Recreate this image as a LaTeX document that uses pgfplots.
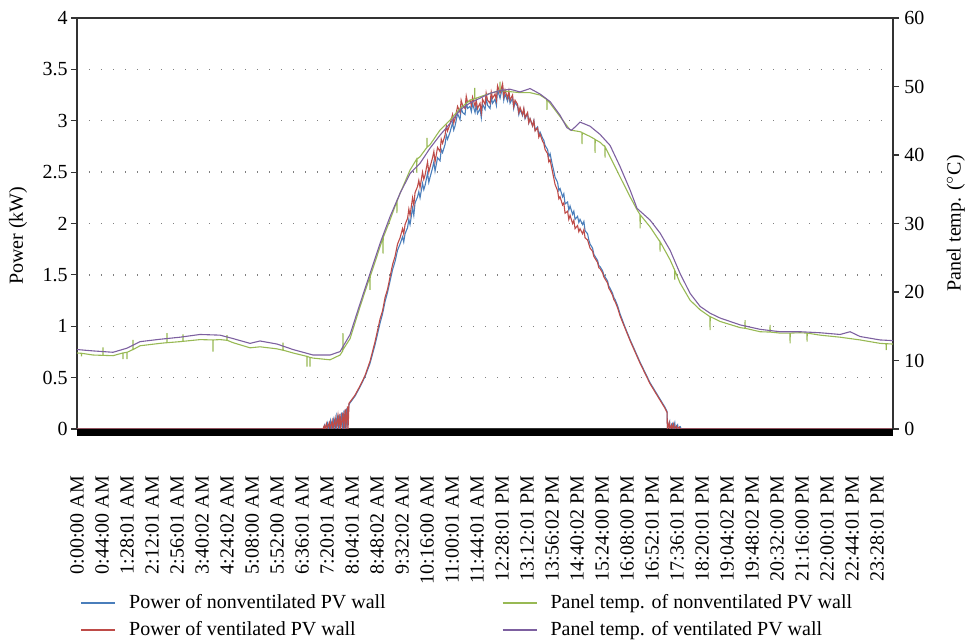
\documentclass[border=0pt]{standalone}
\usepackage{pgfplots}
\pgfplotsset{compat=1.18}
\usepackage{fontspec}
\setmainfont{Liberation Serif}
\definecolor{cblue}{HTML}{4A7EBB}
\definecolor{cred}{HTML}{BE4B48}
\definecolor{cgreen}{HTML}{98B954}
\definecolor{cpurple}{HTML}{7D60A0}
\definecolor{axgray}{HTML}{333333}
\begin{document}
\begin{tikzpicture}[font=\fontsize{10}{12}\selectfont]
\begin{axis}[name=ax1, scale only axis, width=408pt, height=205.5pt,
  xmin=0, xmax=1436, ymin=0, ymax=4,
  /pgf/number format/assume math mode=true,
  xtick={0,44,...,1408},
  xticklabels={0:00:00 AM,0:44:00 AM,1:28:01 AM,2:12:01 AM,2:56:01 AM,3:40:02 AM,4:24:02 AM,5:08:00 AM,5:52:00 AM,6:36:01 AM,7:20:01 AM,8:04:01 AM,8:48:02 AM,9:32:02 AM,10:16:00 AM,11:00:01 AM,11:44:01 AM,12:28:01 PM,13:12:01 PM,13:56:02 PM,14:40:02 PM,15:24:00 PM,16:08:00 PM,16:52:01 PM,17:36:01 PM,18:20:01 PM,19:04:02 PM,19:48:02 PM,20:32:00 PM,21:16:00 PM,22:00:01 PM,22:44:01 PM,23:28:01 PM},
  xticklabel style={rotate=90, anchor=east},
  xticklabel shift=17pt,
  xtick style={draw=none},
  ytick={0,0.5,...,4},
  yticklabel style={inner xsep=1.5pt},
  ytick pos=left, tick align=outside, major tick length=3pt,
  ytick style={axgray, line width=0.6pt},
  ymajorgrids, grid style={gray, line width=0.7pt, dash pattern=on 0.7pt off 5.3pt},
  axis line style={axgray, line width=0.7pt},
  ylabel={Power (kW)},
  ylabel style={at={(axis description cs:-0.0723,0.47)}, anchor=center},
]
\addplot[cblue, line width=0.55pt] coordinates {
(0,0)(433,0)(436,0.04)(437,0)(441,0.06)(442,0)(446,0.08)(447,0)(451,0.09)(452,0)(456,0.12)(457,0)(461,0.14)(462,0)(466,0.16)(467,0)(470,0.18)(471,0)(474,0.2)(475,0)
(478.7,0.24)(489.3,0.32)(498.1,0.41)(506.9,0.51)(515.7,0.64)(524.5,0.82)(533.3,1.03)(537.7,1.12)(542.1,1.24)(546.5,1.33)(550.9,1.44)(555.3,1.55)(559.7,1.63)(564.1,1.74)(568.5,1.8)
(572.9,1.87)(575,1.82)(577.3,1.9)(581.7,1.96)(584,2.04)(586.1,1.99)(590.5,2.15)(592.7,2.08)(594.9,2.2)(599.3,2.26)(601.5,2.31)(603.7,2.25)(608.1,2.39)(610.3,2.33)(612.5,2.37)(616.9,2.49)(619.1,2.4)(621.3,2.45)(625.7,2.54)(628,2.6)(630.1,2.51)(634.5,2.64)(638.9,2.61)(641,2.72)(643.3,2.69)(647.7,2.77)(650,2.86)(652.1,2.82)(656.5,2.89)(660.9,2.98)(663,2.91)(665.3,2.95)(669.7,3.07)(674.1,3.01)(676,3.13)(678.5,3.08)(682.9,3.06)(685,3.18)(687.3,3.12)(691.7,3.14)(694,3.09)(696.1,3.17)(700.5,3.08)(702.5,3.15)(704.9,3.07)(709.3,3.12)(711.5,3.03)(713.7,3.16)(718.1,3.11)(720,3.22)(722.5,3.15)(726.9,3.12)(729,3.23)(731.3,3.17)(735.7,3.21)(738,3.15)(740.1,3.3)(744.5,3.22)(746.5,3.27)(748.9,3.33)(751,3.2)(753.3,3.26)(757.7,3.19)(760,3.26)(762.1,3.17)(766.5,3.22)(768.5,3.12)(770.9,3.18)(775.3,3.14)(777.5,3.06)(779.7,3.11)(784.1,3.05)(786.3,3.11)(788.5,3.02)(792.9,3.07)(795,2.98)(797.3,3.02)(801.7,2.95)(804,3.0)(806.1,2.91)(810.5,2.94)(812.7,2.86)(814.9,2.89)(819.3,2.83)(821.5,2.81)(823.7,2.76)(828.1,2.72)(830.3,2.65)(832.5,2.68)(836.9,2.56)(839.1,2.51)(841.3,2.45)(845.7,2.4)(848,2.32)(850.1,2.34)(854.5,2.26)(856.7,2.29)(858.9,2.19)(863.3,2.21)(865.5,2.13)(867.7,2.17)(872.1,2.09)(874.3,2.12)(876.5,2.04)(880.9,2.07)(883.1,2.01)(885.3,2.04)(889.7,1.99)(892,2.02)(894.1,1.93)(898.5,1.9)(900.7,1.84)(902.9,1.8)(907.3,1.76)(909.5,1.7)(911.7,1.68)(916.1,1.64)(918.3,1.59)(920.5,1.58)(924.9,1.54)(927.1,1.5)(929.3,1.48)(933.7,1.44)(935.9,1.39)(938.1,1.37)(942.5,1.32)(944.7,1.28)(946.9,1.26)(951.3,1.2)(953.5,1.16)(955.7,1.12)
(964.5,0.99)(973.3,0.87)(982.1,0.76)(990.9,0.65)(999.7,0.55)(1008.5,0.45)(1017.3,0.37)(1026.1,0.29)(1034.9,0.21)(1038.4,0.17)
(1039,0)(1043,0.07)(1044,0)(1048,0.05)(1049,0)(1052,0.06)(1053,0)(1057,0.04)(1058,0)(1062,0.02)(1063,0)(1436,0)};
\addplot[cred, line width=0.55pt] coordinates {
(0,0)(433,0)(435,0.03)(436,0)(439,0.05)(440,0)(444,0.06)(445,0)(449,0.08)(450,0)(454,0.1)(455,0)(459,0.13)(460,0)(463,0.15)(464,0)(468,0.16)(469,0)(472,0.19)(473,0)(476,0.22)(477,0)
(478.7,0.25)(489.3,0.33)(498.1,0.42)(506.9,0.52)(515.7,0.66)(524.5,0.85)(533.3,1.07)(537.7,1.15)(542.1,1.28)(546.5,1.36)(550.9,1.48)(555.3,1.6)(559.7,1.68)(564.1,1.8)(568.5,1.86)
(572.9,1.95)(575,1.9)(577.3,1.99)(581.7,2.05)(584,2.14)(586.1,2.08)(590.5,2.25)(592.7,2.18)(594.9,2.3)(599.3,2.36)(601.5,2.42)(603.7,2.35)(608.1,2.5)(610.3,2.43)(612.5,2.47)(616.9,2.6)(619.1,2.5)(621.3,2.55)(625.7,2.64)(628,2.7)(630.1,2.6)(634.5,2.74)(638.9,2.7)(641,2.82)(643.3,2.78)(647.7,2.86)(650,2.95)(652.1,2.9)(656.5,2.97)(660.9,3.06)(663,2.98)(665.3,3.02)(669.7,3.14)(674.1,3.08)(676,3.2)(678.5,3.15)(682.9,3.12)(685,3.24)(687.3,3.18)(691.7,3.2)(694,3.15)(696.1,3.23)(700.5,3.14)(702.5,3.2)(704.9,3.12)(709.3,3.17)(711.5,3.08)(713.7,3.21)(718.1,3.16)(720,3.27)(722.5,3.2)(726.9,3.17)(729,3.28)(731.3,3.22)(735.7,3.26)(738,3.2)(740.1,3.34)(744.5,3.27)(746.5,3.31)(748.9,3.36)(751,3.24)(753.3,3.3)(757.7,3.22)(760,3.29)(762.1,3.2)(766.5,3.25)(768.5,3.14)(770.9,3.2)(775.3,3.16)(777.5,3.08)(779.7,3.13)(784.1,3.06)(786.3,3.12)(788.5,3.03)(792.9,3.08)(795,2.98)(797.3,3.02)(801.7,2.95)(804,3.0)(806.1,2.9)(810.5,2.93)(812.7,2.84)(814.9,2.87)(819.3,2.8)(821.5,2.78)(823.7,2.72)(828.1,2.68)(830.3,2.6)(832.5,2.62)(836.9,2.5)(839.1,2.44)(841.3,2.38)(845.7,2.32)(848,2.24)(850.1,2.26)(854.5,2.18)(856.7,2.2)(858.9,2.1)(863.3,2.12)(865.5,2.04)(867.7,2.08)(872.1,2.0)(874.3,2.03)(876.5,1.95)(880.9,1.98)(883.1,1.92)(885.3,1.95)(889.7,1.9)(892,1.94)(894.1,1.86)(898.5,1.84)(900.7,1.8)(902.9,1.76)(907.3,1.73)(909.5,1.68)(911.7,1.66)(916.1,1.62)(918.3,1.57)(920.5,1.56)(924.9,1.52)(927.1,1.48)(929.3,1.46)(933.7,1.42)(935.9,1.37)(938.1,1.35)(942.5,1.3)(944.7,1.26)(946.9,1.24)(951.3,1.18)(953.5,1.14)(955.7,1.1)
(964.5,0.98)(973.3,0.86)(982.1,0.75)(990.9,0.64)(999.7,0.54)(1008.5,0.44)(1017.3,0.36)(1026.1,0.28)(1034.9,0.2)(1038.4,0.16)
(1039,0)(1042,0.06)(1043,0)(1046,0.04)(1047,0)(1050,0.05)(1051,0)(1055,0.03)(1056,0)(1060,0.02)(1061,0)(1436,0)};
\end{axis}
\begin{axis}[scale only axis, width=408pt, height=205.5pt,
  xmin=0, xmax=1436, ymin=0, ymax=60,
  /pgf/number format/assume math mode=true,
  axis x line=none, axis y line*=right,
  ytick={0,10,...,60},
  tick align=outside, major tick length=3pt,
  ytick style={axgray, line width=0.6pt},
  yticklabel style={inner xsep=2.5pt},
  axis line style={axgray, line width=0.7pt},
  ylabel={Panel temp. ($^{\circ}$C)},
  ylabel style={at={(axis description cs:1.077,0.5)}, anchor=center},
  legend columns=2,
  legend cell align=left,
  legend image code/.code={\draw[#1, line width=0.8pt] (0cm,0cm) -- (0.6cm,0cm);},
  legend style={draw=none, fill=none, at={(axis description cs:0.0037,-0.392)}, anchor=north west, inner sep=0pt, row sep=0.8pt, /tikz/every even column/.append style={column sep=56pt}},
]
\addlegendimage{cblue}
\addlegendentry{\hspace{4.5pt}Power of nonventilated PV wall}
\addplot[cgreen, line width=0.55pt] coordinates {
(0,11.1)(7.7,11.05)(8,10.6)(8.3,11.05)(28.2,10.8)(45.5,10.75)(45.8,11.9)(46.1,10.75)(63.4,10.7)(80.7,11.1)(81,10.2)(81.3,11.1)(87.7,11.2)(88,10.2)(88.3,11.2)(98.3,11.6)(98.6,13.0)(98.9,11.6)(110.9,12.15)(146.1,12.5)(158.1,12.6)(158.4,14.0)(158.7,12.6)(181.3,12.75)(186.3,12.8)(186.6,13.8)(186.9,12.8)(216.5,13.05)(239.1,13.0)(239.4,11.3)(239.7,13.0)(251.7,13.05)(263.7,12.95)(264,13.7)(264.3,12.95)(274.6,12.6)(304.5,11.85)(322.1,12.0)(352.0,11.7)(362.3,11.5)(362.6,12.6)(362.9,11.5)(380.2,11.1)(404.5,10.6)(404.8,9.1)(405.1,10.6)(409.7,10.45)(410,9.1)(410.3,10.45)(415.4,10.35)(445.3,10.1)(463.0,10.8)(467.7,11.4)(468,14.0)(468.3,11.6)(480.6,13.2)(498.1,17.85)(515.4,22.2)(515.7,20.3)(516,22.25)(533.3,26.6)(538.3,27.9)(538.6,25.6)(538.9,27.95)(550.9,30.5)(562.7,33.2)(563,31.5)(563.3,33.25)(568.5,34.4)(586.1,37.8)(597.7,39.4)(598,37.4)(598.3,39.4)(603.7,39.75)(615.7,41.1)(616,42.5)(616.3,41.15)(621.3,41.5)(638.9,43.65)(656.5,45.1)(674.1,46.8)(691.7,48.0)(699.7,48.2)(700,49.8)(700.3,48.2)(709.3,48.5)(726.9,49.0)(744.2,49.4)(744.5,50.7)(744.8,49.4)(762.1,49.25)(779.7,49.1)(797.3,49.1)(814.9,48.75)(826.7,48.1)(827,46.6)(827.3,48.05)(832.5,47.55)(850.1,45.6)(867.7,43.65)(885.3,43.4)(888.5,43.3)(888.8,41.6)(889.1,43.25)(902.9,42.7)(911.4,42.3)(911.7,40.3)(912,42.25)(920.5,41.85)(929,41.2)(929.3,39.6)(929.6,41.15)(938.1,39.75)(955.7,36.8)(973.3,33.9)(985.6,32.0)(990.7,31.3)(991,29.3)(991.3,31.25)(1008.5,29.5)(1025.8,27.35)(1026.1,25.9)(1026.4,27.3)(1043.7,24.7)(1051.7,23.2)(1052,21.8)(1052.3,23.1)(1061.3,21.3)(1078.9,18.8)(1096.5,17.4)(1113.8,16.4)(1114.1,14.45)(1114.4,16.4)(1131.7,15.7)(1166.9,14.8)(1175.4,14.7)(1175.7,15.9)(1176,14.7)(1202.1,14.2)(1219.4,14.15)(1219.7,15.2)(1220,14.15)(1237.3,14.0)(1254.6,14.0)(1254.9,12.5)(1255.2,14.0)(1272.5,14.05)(1284.5,14.0)(1284.8,12.75)(1285.1,14.0)(1307.7,13.7)(1342.9,13.4)(1378.1,13.0)(1413.3,12.5)(1423.7,12.45)(1424,11.5)(1424.3,12.45)(1436,12.4)};
\addlegendentry{\hspace{4.5pt}Panel temp. of nonventilated PV wall}
\addlegendimage{cred}
\addlegendentry{\hspace{4.5pt}Power of ventilated PV wall}
\addplot[cpurple, line width=0.55pt] coordinates {
(0,11.6)(28.2,11.4)(63.4,11.2)(88.0,11.8)(110.9,12.75)(146.1,13.1)(181.3,13.4)(216.5,13.8)(251.7,13.7)(274.6,13.2)(304.5,12.5)(322.1,12.85)(352.0,12.4)(380.2,11.6)(415.4,10.8)(445.3,10.8)(463.0,11.3)(480.6,13.8)(498.1,18.3)(515.7,22.7)(533.3,27.1)(550.9,31.0)(568.5,34.4)(586.1,37.3)(603.7,38.8)(621.3,41.0)(638.9,42.9)(656.5,44.6)(674.1,46.6)(691.7,47.6)(709.3,48.3)(726.9,49.0)(744.5,49.4)(762.1,49.6)(779.7,49.2)(797.3,49.7)(814.9,48.9)(832.5,47.8)(850.1,45.8)(862,44.0)(870,43.6)(878,44.2)(885.3,44.8)(902.9,44.2)(920.5,43.0)(938.1,41.4)(955.7,38.3)(973.3,34.9)(985.6,32.2)(1008.5,30.5)(1026.1,28.6)(1043.7,26.1)(1061.3,22.7)(1078.9,19.8)(1096.5,17.9)(1114.1,16.9)(1131.7,16.2)(1166.9,15.2)(1202.1,14.55)(1237.3,14.2)(1272.5,14.2)(1307.7,14.05)(1342.9,13.8)(1360.5,14.2)(1378.1,13.5)(1413.3,13.0)(1436,12.9)};
\addlegendentry{\hspace{4.5pt}Panel temp. of ventilated PV wall}
\end{axis}
\draw[black, line width=3.3pt] ([yshift=-1.65pt]ax1.south west) -- ([yshift=-1.65pt]ax1.south east);
\pgfresetboundingbox
\path[use as bounding box] ([xshift=-38.5pt,yshift=-106pt]ax1.south west) rectangle ([xshift=38pt,yshift=9pt]ax1.north east);
\end{tikzpicture}
\end{document}
